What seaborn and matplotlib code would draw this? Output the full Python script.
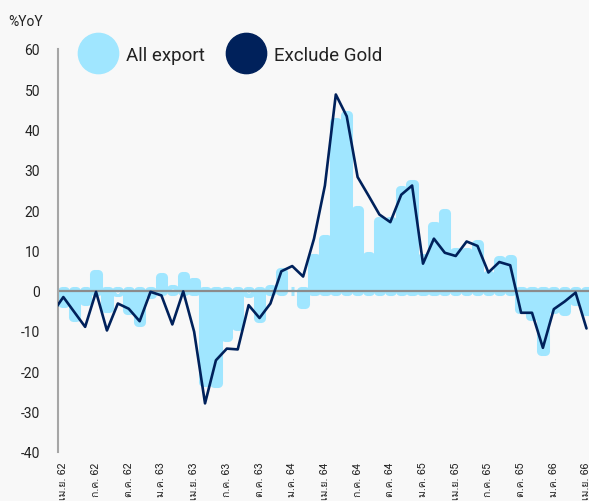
import matplotlib
matplotlib.use("Agg")
import numpy as np
import pandas as pd
import matplotlib.pyplot as plt
import seaborn as sns
from matplotlib.lines import Line2D
from matplotlib import font_manager as fm

# ---------------- data ----------------
months = [
    "มี.ค. 62", "เม.ย. 62", "พ.ค. 62", "มิ.ย. 62", "ก.ค. 62", "ส.ค. 62", "ก.ย. 62", "ต.ค. 62", "พ.ย. 62", "ธ.ค. 62",
    "ม.ค. 63", "ก.พ. 63", "มี.ค. 63", "เม.ย. 63", "พ.ค. 63", "มิ.ย. 63", "ก.ค. 63", "ส.ค. 63", "ก.ย. 63", "ต.ค. 63",
    "พ.ย. 63", "ธ.ค. 63", "ม.ค. 64", "ก.พ. 64", "มี.ค. 64", "เม.ย. 64", "พ.ค. 64", "มิ.ย. 64", "ก.ค. 64", "ส.ค. 64",
    "ก.ย. 64", "ต.ค. 64", "พ.ย. 64", "ธ.ค. 64", "ม.ค. 65", "ก.พ. 65", "มี.ค. 65", "เม.ย. 65", "พ.ค. 65", "มิ.ย. 65",
    "ก.ค. 65", "ส.ค. 65", "ก.ย. 65", "ต.ค. 65", "พ.ย. 65", "ธ.ค. 65", "ม.ค. 66", "ก.พ. 66", "มี.ค. 66", "เม.ย. 66",
]
all_export = [
    -5.0, -3.1, -6.5, -2.5, 4.2, -4.2, -0.3, -4.9, -7.7, -0.8,
    3.5, 0.3, 3.7, 2.1, -22.8, -23.0, -11.6, -8.8, -0.5, -6.7,
    0.5, 4.5, 0.0, -3.4, 8.1, 12.8, 41.8, 43.6, 20.1, 8.6,
    17.2, 17.4, 24.9, 26.5, 8.0, 16.1, 19.2, 9.7, 9.7, 11.6,
    4.0, 7.5, 7.8, -4.6, -6.3, -15.0, -4.6, -5.0, -2.5, -5.0,
]
exclude_gold = [
    -5.5, -1.6, -5.3, -9.0, -0.3, -9.9, -3.2, -4.5, -7.6, -0.3,
    -1.2, -8.4, -0.2, -10.2, -28.0, -17.3, -14.4, -14.6, -3.6, -6.8,
    -3.2, 4.8, 6.1, 3.5, 12.9, 26.1, 48.7, 43.3, 28.2, 23.6,
    18.9, 17.0, 23.8, 26.1, 6.7, 12.9, 9.4, 8.6, 12.2, 11.1,
    4.5, 7.1, 6.3, -5.5, -5.5, -14.2, -4.6, -2.7, -0.5, -9.4,
]
y_ticks = [-40, -30, -20, -10, 0, 10, 20, 30, 40, 50, 60]
series_names = ["All export", "Exclude Gold"]

# ---------------- style ----------------
LIGHT = "#a0e6ff"
NAVY = "#00215b"
BG = "#f8f8f8"


def thai_family():
    try:
        from fontTools.ttLib import TTFont, TTCollection
    except Exception:
        return None
    for f in fm.fontManager.ttflist:
        path = f.fname
        try:
            if path.lower().endswith(".ttc"):
                fonts = TTCollection(path, lazy=True).fonts
            else:
                fonts = [TTFont(path, lazy=True)]
            for t in fonts:
                cmap = t.getBestCmap()
                if cmap and 0x0E21 in cmap and 0x0E04 in cmap:
                    return f.name
        except Exception:
            continue
    return None


sns.set_style("white")
thai = thai_family()
base_fonts = ["Roboto", "DejaVu Sans"]
plt.rcParams["font.family"] = base_fonts
label_fonts = ([thai] if thai else []) + base_fonts

df = pd.DataFrame({"idx": np.arange(len(months)), "month": months,
                   "all": all_export, "exgold": exclude_gold})

W, H = 589, 502
fig = plt.figure(figsize=(W / 100, H / 100), dpi=100, facecolor=BG)
ax = fig.add_axes([58 / W, (H - 452.7) / H, (W - 58) / W, (452.7 - 50) / H])
ax.set_facecolor(BG)

sns.barplot(data=df, x="idx", y="all", color=LIGHT, saturation=1, width=0.3,
            edgecolor=LIGHT, linewidth=6.5, ax=ax, zorder=1)
for p in ax.patches:
    p.set_joinstyle("round")

ax.axhline(0, color="#8c8c8c", lw=1.6, zorder=2.5)

sns.lineplot(data=df, x="idx", y="exgold", color=NAVY, lw=1.9, ax=ax, zorder=3)

ax.set_xlim(0.51, 49.23)
ax.set_ylim(-40, 60)
ax.set_yticks(y_ticks)
ax.set_yticklabels([str(v) for v in y_ticks], fontsize=10, color="#222222")
tick_pos = list(range(1, len(months), 3))
ax.set_xticks(tick_pos)
ax.set_xticklabels([months[i] for i in tick_pos], rotation=90, fontsize=7.5,
                   color="#222222", family=label_fonts, va="top", ha="center")
ax.tick_params(axis="y", length=0, pad=13)
ax.tick_params(axis="x", length=0, pad=7)
ax.set_xlabel("")
ax.set_ylabel("")
for s in ["top", "right", "bottom"]:
    ax.spines[s].set_visible(False)
ax.spines["left"].set_color("#a6a6a6")
ax.spines["left"].set_linewidth(1.5)

fig.text(8 / W, 1 - 22 / H, "%YoY", fontsize=10, color="#222222", va="center", ha="left")

handles = [
    Line2D([0], [0], marker="o", linestyle="none", markersize=29,
           markerfacecolor=LIGHT, markeredgecolor=LIGHT),
    Line2D([0], [0], marker="o", linestyle="none", markersize=29,
           markerfacecolor=NAVY, markeredgecolor=NAVY),
]
fig.legend(handles, series_names, loc="center left",
           bbox_to_anchor=(78 / W, 1 - 56 / H), ncol=2, frameon=False,
           fontsize=13.5, handlelength=2.1, handletextpad=0.48,
           columnspacing=1.1, borderpad=0, borderaxespad=0,
           labelcolor="#222222")

fig.savefig("out.png", dpi=100, facecolor=BG)
